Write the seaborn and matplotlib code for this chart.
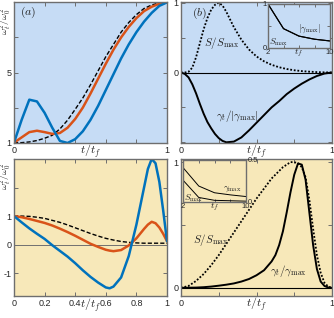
import matplotlib
matplotlib.use("Agg")
import matplotlib.pyplot as plt
import seaborn as sns

# ---- data ----
t21 = [0, 0.05, 0.1, 0.15, 0.2, 0.25, 0.3, 0.35, 0.4, 0.45, 0.5,
       0.55, 0.6, 0.65, 0.7, 0.75, 0.8, 0.85, 0.9, 0.95, 1.0]

# (a) top: expansion, omega_t^2/omega_0^2
a_blue = [1.0, 2.3, 3.45, 3.35, 2.7, 1.85, 1.1, 0.98, 1.2, 1.65, 2.3,
          3.1, 4.0, 4.9, 5.8, 6.6, 7.3, 7.9, 8.4, 8.8, 9.0]
a_red = [1.0, 1.3, 1.6, 1.68, 1.6, 1.5, 1.55, 1.85, 2.35, 3.0, 3.8,
         4.65, 5.5, 6.3, 7.0, 7.6, 8.1, 8.5, 8.75, 8.92, 9.0]
a_dash = [1.0, 1.0, 1.04, 1.12, 1.25, 1.42, 1.78, 2.28, 2.9, 3.55, 4.3,
          5.1, 5.9, 6.6, 7.3, 7.85, 8.3, 8.65, 8.85, 8.97, 9.0]

# (a) bottom: compression
t_c = [0, 0.05, 0.1, 0.15, 0.2, 0.25, 0.3, 0.35, 0.4, 0.45, 0.5, 0.55,
       0.6, 0.625, 0.65, 0.7, 0.75, 0.8, 0.85, 0.875, 0.9, 0.925, 0.95, 0.975, 1.0]
c_blue = [1.0, 0.78, 0.57, 0.38, 0.2, -0.02, -0.22, -0.42, -0.65, -0.9, -1.13, -1.33,
          -1.5, -1.53, -1.47, -1.15, -0.4, 0.7, 2.0, 2.65, 3.0, 2.85, 2.2, 1.2, 0.12]
c_red = [1.0, 0.96, 0.9, 0.83, 0.76, 0.67, 0.56, 0.44, 0.31, 0.17, 0.03, -0.08,
         -0.18, -0.21, -0.23, -0.19, -0.03, 0.22, 0.55, 0.7, 0.8, 0.75, 0.6, 0.38, 0.12]
c_dash = [1.0, 1.0, 0.99, 0.96, 0.92, 0.85, 0.78, 0.69, 0.59, 0.49, 0.39, 0.3,
          0.22, 0.19, 0.16, 0.11, 0.08, 0.06, 0.05, 0.05, 0.05, 0.05, 0.05, 0.05, 0.05]

# (b) top
t_b = [0, 0.025, 0.05, 0.075, 0.1, 0.125, 0.15, 0.175, 0.2, 0.225, 0.25, 0.275,
       0.3, 0.35, 0.4, 0.45, 0.5, 0.55, 0.6, 0.65, 0.7, 0.75, 0.8, 0.85, 0.9, 0.95, 1.0]
b_S = [0, 0.0, 0.01, 0.07, 0.22, 0.42, 0.62, 0.78, 0.9, 0.97, 1.0, 0.96,
       0.87, 0.65, 0.47, 0.33, 0.23, 0.16, 0.11, 0.075, 0.05, 0.032, 0.02, 0.012, 0.006, 0.002, 0]
b_g = [0, -0.02, -0.07, -0.17, -0.3, -0.45, -0.59, -0.71, -0.8, -0.88, -0.94, -0.98,
       -1.0, -0.99, -0.93, -0.83, -0.72, -0.61, -0.5, -0.41, -0.31, -0.23, -0.16, -0.1, -0.05, -0.015, 0]

# (b) bottom
t_d = [0, 0.05, 0.1, 0.15, 0.2, 0.25, 0.3, 0.35, 0.4, 0.45, 0.5, 0.55, 0.6, 0.625,
       0.65, 0.675, 0.7, 0.725, 0.75, 0.775, 0.8, 0.825, 0.85, 0.875, 0.9, 0.925, 0.95, 0.975, 1.0]
d_S = [0, 0.015, 0.055, 0.11, 0.18, 0.26, 0.35, 0.44, 0.53, 0.62, 0.71, 0.79, 0.87, 0.9,
       0.93, 0.96, 0.98, 1.0, 1.0, 0.99, 0.96, 0.88, 0.7, 0.47, 0.26, 0.12, 0.04, 0.01, 0]
d_g = [0, 0.001, 0.002, 0.005, 0.01, 0.017, 0.025, 0.035, 0.05, 0.07, 0.1, 0.14, 0.21, 0.26,
       0.34, 0.45, 0.6, 0.76, 0.9, 0.99, 0.98, 0.86, 0.6, 0.34, 0.15, 0.05, 0.015, 0.003, 0]

# insets
tf = [2, 4, 6, 8, 10]
top_gmax = [1.0, 0.44, 0.27, 0.2, 0.16]
top_smax = [1.0, 0.44, 0.27, 0.2, 0.16]
bot_gmax = [0.41, 0.19, 0.11, 0.085, 0.065]
bot_smax = [0.26, 0.054, 0.02, 0.015, 0.01]

BLUE = "#0072BD"
RED = "#D95319"
BG_TOP = "#c6dcf5"
BG_BOT = "#f7e8b9"
SPINE = "#6e6e6e"

sns.set_style("ticks")
plt.rcParams["font.family"] = ["Liberation Sans", "DejaVu Sans"]
plt.rcParams["mathtext.fontset"] = "cm"

fig = plt.figure(figsize=(3.34, 3.18), dpi=100)
W, H = 334, 318


def box(x0, y0, x1, y1):
    return [x0 / W, 1 - y1 / H, (x1 - x0) / W, (y1 - y0) / H]


def style(ax, bg):
    ax.set_facecolor(bg)
    for s in ax.spines.values():
        s.set_color(SPINE)
        s.set_linewidth(1.0)
    ax.tick_params(direction="in", length=3, width=0.7, color=SPINE,
                   labelsize=6.5, pad=2, top=True, right=True)


ax1 = fig.add_axes(box(14, 2, 167, 143))
ax2 = fig.add_axes(box(181, 2, 332, 143))
ax3 = fig.add_axes(box(14, 159, 167, 296))
ax4 = fig.add_axes(box(181, 159, 332, 296))

# ---- (a) top ----
style(ax1, BG_TOP)
sns.lineplot(x=t21, y=a_dash, ax=ax1, color="black", lw=1.0, linestyle=(0, (3, 1.5)))
sns.lineplot(x=t21, y=a_red, ax=ax1, color=RED, lw=1.8)
sns.lineplot(x=t21, y=a_blue, ax=ax1, color=BLUE, lw=1.8)
ax1.set_xlim(0, 1)
ax1.set_ylim(0.98, 9.02)
ax1.set_xticks([0, 0.2, 0.4, 0.6, 0.8, 1])
ax1.set_xticklabels(["0", "", "", "", "", "1"])
ax1.set_yticks([1, 3, 5, 7, 9])
ax1.set_yticklabels(["1", "", "5", "", ""])
ax1.set_xlabel(r"$t/t_f$", fontsize=8.5, labelpad=-9)
ax1.set_ylabel(r"$\omega_t^2/\omega_0^2$", fontsize=7, labelpad=0)
ax1.yaxis.set_label_coords(0.0, 0.86)
ax1.text(0.04, 0.93, r"$(a)$", transform=ax1.transAxes, fontsize=8.5, va="center")

# ---- (b) top ----
style(ax2, BG_TOP)
ax2.axhline(0, color="black", lw=0.8)
sns.lineplot(x=t_b, y=b_S, ax=ax2, color="black", lw=1.3, linestyle=(0, (1, 1)))
sns.lineplot(x=t_b, y=b_g, ax=ax2, color="black", lw=1.4)
ax2.set_xlim(0, 1)
ax2.set_ylim(-1.01, 1.01)
ax2.set_xticks([0, 0.25, 0.5, 0.75, 1])
ax2.set_xticklabels(["0", "", "", "", "1"])
ax2.set_yticks([-1, -0.5, 0, 0.5, 1])
ax2.set_yticklabels(["", "", "0", "", "1"])
ax2.set_xlabel(r"$t/t_f$", fontsize=8.5, labelpad=-9)
ax2.set_ylabel("")
ax2.text(0.07, 0.92, r"$(b)$", transform=ax2.transAxes, fontsize=8.5, va="center")
ax2.text(0.27, 0.42, r"$S/S_{\max}$", fontsize=8, ha="center", va="center")
ax2.text(0.37, -0.62, r"$\gamma_t/|\gamma_{\max}|$", fontsize=8, ha="center", va="center")

# ---- (a) bottom ----
style(ax3, BG_BOT)
ax3.axhline(0, color="#707070", lw=0.7)
sns.lineplot(x=t_c, y=c_dash, ax=ax3, color="black", lw=1.0, linestyle=(0, (3, 1.5)))
sns.lineplot(x=t_c, y=c_red, ax=ax3, color=RED, lw=1.8)
sns.lineplot(x=t_c, y=c_blue, ax=ax3, color=BLUE, lw=1.8)
ax3.set_xlim(0, 1)
ax3.set_ylim(-1.8, 3.0)
ax3.set_xticks([0, 0.2, 0.4, 0.6, 0.8, 1])
ax3.set_xticklabels(["0", "0.2", "0.4", "0.6", "0.8", "1"])
ax3.set_yticks([-1, 0, 1, 2])
ax3.set_yticklabels(["-1", "0", "1", ""])
ax3.set_xlabel(r"$t/t_f$", fontsize=8.5, labelpad=-8)
ax3.set_ylabel(r"$\omega_t^2/\omega_0^2$", fontsize=7, labelpad=0)
ax3.yaxis.set_label_coords(0.0, 0.87)

# ---- (b) bottom ----
style(ax4, BG_BOT)
ax4.axhline(0, color="black", lw=0.8)
sns.lineplot(x=t_d, y=d_S, ax=ax4, color="black", lw=1.3, linestyle=(0, (1, 1)))
sns.lineplot(x=t_d, y=d_g, ax=ax4, color="black", lw=1.4)
ax4.set_xlim(0, 1)
ax4.set_ylim(-0.065, 1.025)
ax4.set_xticks([0, 0.25, 0.5, 0.75, 1])
ax4.set_xticklabels(["0", "", "", "", "1"])
ax4.set_yticks([0, 0.5, 1])
ax4.set_yticklabels(["0", "", "1"])
ax4.set_xlabel(r"$t/t_f$", fontsize=8.5, labelpad=-9)
ax4.set_ylabel("")
ax4.text(0.2, 0.38, r"$S/S_{\max}$", fontsize=8, ha="center", va="center")
ax4.text(0.71, 0.13, r"$\gamma_t/\gamma_{\max}$", fontsize=8, ha="center", va="center")

# ---- insets ----
in1 = fig.add_axes(box(268, 4, 330, 48))
style(in1, BG_TOP)
in1.tick_params(labelsize=5.5, length=2, pad=1)
sns.lineplot(x=tf, y=top_smax, ax=in1, color="black", lw=0.8)
sns.lineplot(x=tf, y=top_gmax, ax=in1, color="black", lw=0.8)
in1.set_xlim(2, 10)
in1.set_ylim(0, 1)
in1.set_xticks([2, 4, 6, 8, 10])
in1.set_xticklabels(["2", "", "", "", "10"])
in1.set_yticks([0, 0.5, 1])
in1.set_yticklabels(["0", "", "1"])
in1.set_xlabel(r"$t_f$", fontsize=7, labelpad=-7)
in1.set_ylabel("")
in1.text(7.4, 0.45, r"$|\gamma_{\max}|$", fontsize=6.5, ha="center", va="center")
in1.text(3.4, 0.12, r"$S_{\max}$", fontsize=6.5, ha="center", va="center")

in2 = fig.add_axes(box(183, 160, 246, 202))
style(in2, BG_BOT)
in2.tick_params(labelsize=5.5, length=2, pad=1, labelleft=False, labelright=True)
sns.lineplot(x=tf, y=bot_smax, ax=in2, color="black", lw=0.7)
sns.lineplot(x=tf, y=bot_gmax, ax=in2, color="black", lw=0.7)
in2.set_xlim(2, 10)
in2.set_ylim(0, 0.5)
in2.set_xticks([2, 4, 6, 8, 10])
in2.set_xticklabels(["2", "", "", "", "10"])
in2.set_yticks([0, 0.5])
in2.set_yticklabels(["0", "0.5"])
in2.set_xlabel(r"$t_f$", fontsize=7, labelpad=-7)
in2.set_ylabel("")
in2.text(8.3, 0.15, r"$\gamma_{\max}$", fontsize=6.5, ha="center", va="center")
in2.text(3.3, 0.04, r"$S_{\max}$", fontsize=6.5, ha="center", va="center")

fig.savefig("out.png", dpi=100)
